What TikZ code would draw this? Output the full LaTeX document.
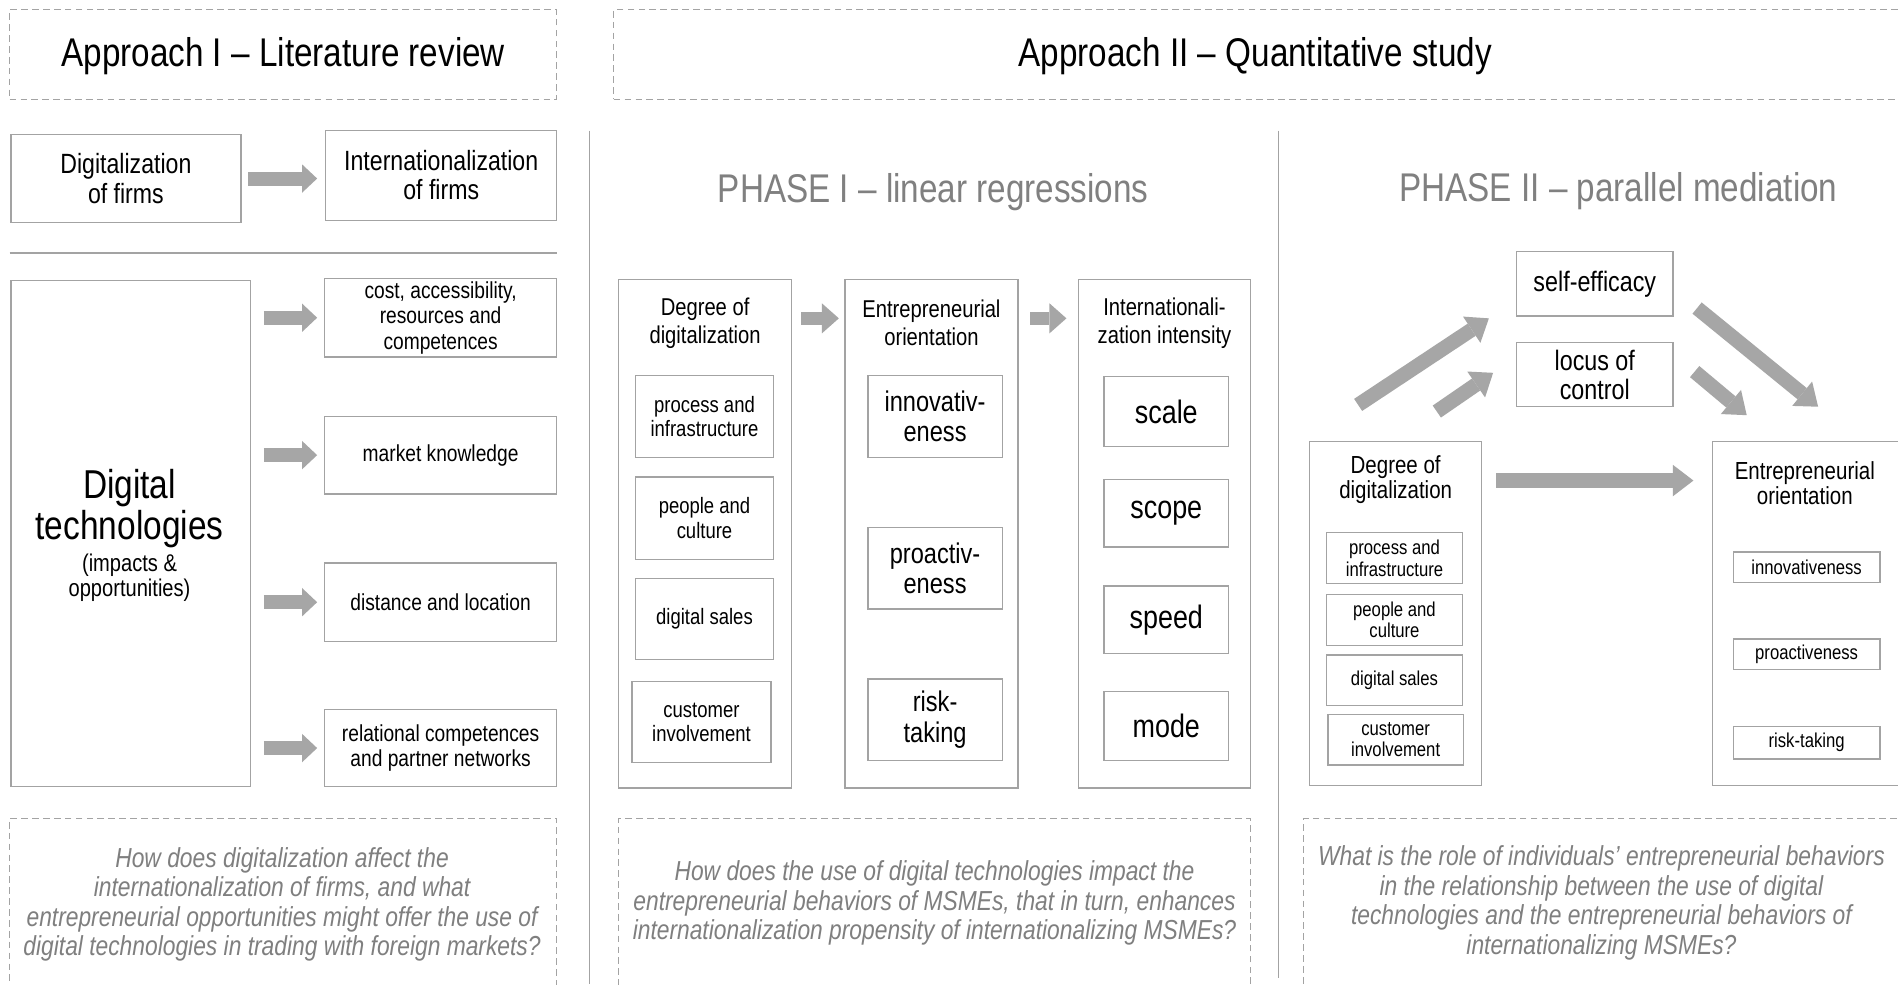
\documentclass[tikz,border=0pt]{standalone}
\usepackage{fontspec}
\setmainfont{Liberation Sans}[FakeStretch=0.83]
\usetikzlibrary{fit,arrows.meta,calc}
\definecolor{bordergray}{HTML}{A3A3A3}
\definecolor{arrowgray}{HTML}{A6A6A6}
\definecolor{titlegray}{HTML}{808080}
\definecolor{qgray}{HTML}{7F7F7F}
\newcommand{\myfs}[2]{\fontsize{#1}{#2}\selectfont}
\tikzset{
  bx/.style={draw=bordergray, line width=1.1pt, inner sep=0pt, outer sep=0pt},
  dbx/.style={draw=bordergray, line width=1.1pt, dash pattern=on 5.5pt off 3.5pt, inner sep=0pt, outer sep=0pt},
  sepline/.style={draw=bordergray, line width=1.1pt},
  txt/.style={inner sep=0pt, align=center, text=black},
  ptitle/.style={inner sep=0pt, text=titlegray, font=\myfs{33.1}{36}},
  qtxt/.style={inner sep=0pt, align=center, text=qgray, font=\itshape\myfs{22.7}{24.3}},
  arrL/.style={draw=arrowgray, line width=11.5pt, -{Triangle[length=12.5pt,width=23.5pt,line width=0pt]}},
  arrP/.style={draw=arrowgray, line width=10.7pt, -{Triangle[length=14pt,width=24.8pt,line width=0pt]}},
  arrM/.style={draw=arrowgray, line width=12pt, -{Triangle[length=17pt,width=26pt,line width=0pt]}},
  hdrA/.style={font=\myfs{20.1}{23}},
  subA/.style={font=\myfs{18.4}{20}},
  eoA/.style={font=\myfs{23.5}{25}},
  iiA/.style={font=\myfs{26.8}{28}},
  hdrB/.style={font=\myfs{20.4}{21}},
  subB/.style={font=\myfs{16.6}{18}},
  lcA/.style={font=\myfs{19.1}{21}},
  ttl/.style={font=\myfs{33.1}{36}},
  frm/.style={font=\myfs{23}{24}}
}
\begin{document}
\begin{tikzpicture}[x=1pt,y=-1pt]
\fill[white] (0,0) rectangle (1568,813);
\useasboundingbox (0,0) rectangle (1568,813);

% ---------- top titles
\node[dbx, fit={(8,8)(460,82)}] (appI) {};
\node[txt, ttl] (appIt) at ([yshift=-1pt]appI.center) {Approach I – Literature review};
\node[dbx, fit={(507,8)(1590,82)}] (appII) {};
\node[txt, ttl] (appIIt) at (1037,46) {Approach II – Quantitative study};

% ---------- Approach I
\node[bx, fit={(9,111)(199,184)}] (dof) {};
\node[txt, frm] (doft) at (dof.center) {Digitalization\\of firms};
\node[bx, fit={(269,108)(460,182)}] (iof) {};
\node[txt, frm] (ioft) at (iof.center) {Internationalization\\of firms};
\draw[arrL, shorten <=6pt, shorten >=7pt] (dof.east) -- (dof.east -| iof.west);

\draw[sepline] (8,209) -- (460,209);

\node[bx, fit={(9,232)(207,650)}] (dt) {};
\node[txt, font=\myfs{33.3}{34}] (dtt) at (107,420) {Digital\\technologies};
\node[txt, font=\myfs{20}{20.5}] (dts) at (107,477) {(impacts \&\\opportunities)};

\node[bx, fit={(268,230)(460,295)}] (c1) {};
\node[txt, lcA] (c1t) at (c1.center) {cost, accessibility,\\resources and\\competences};
\node[bx, fit={(268,344)(460,408)}] (c2) {};
\node[txt, lcA] (c2t) at (c2.center) {market knowledge};
\node[bx, fit={(268,465)(460,530)}] (c3) {};
\node[txt, lcA] (c3t) at (c3.center) {distance and location};
\node[bx, fit={(268,586)(460,650)}] (c4) {};
\node[txt, lcA] (c4t) at (c4.center) {relational competences\\and partner networks};
\foreach \c in {c1,c2,c3,c4}
  \draw[arrL, shorten <=11pt, shorten >=6pt] (dt.east |- \c.west) -- (\c.west);

% ---------- separators
\draw[sepline] (487,108) -- (487,813);
\draw[sepline] (1056,108) -- (1056,808);

% ---------- Phase I
\node[ptitle] (ph1) at (771,159) {PHASE I – linear regressions};

\node[bx, fit={(511,231)(654,651)}] (dd1) {};
\node[txt, hdrA] (dd1h) at (582.5,267) {Degree of\\digitalization};
\node[bx, fit={(525,310)(639,378)}] (p1) {};
\node[txt, subA] (p1t) at (p1.center) {process and\\infrastructure};
\node[bx, fit={(525,394)(639,462)}] (p2) {};
\node[txt, subA] (p2t) at (p2.center) {people and\\culture};
\node[bx, fit={(525,478)(639,545)}] (p3) {};
\node[txt, subA] (p3t) at (p3.center) {digital sales};
\node[bx, fit={(522,563)(637,630)}] (p4) {};
\node[txt, subA] (p4t) at (p4.center) {customer\\involvement};

\node[bx, fit={(698,231)(841,651)}] (eo1) {};
\node[txt, hdrA] (eo1h) at (769.5,267) {Entrepreneurial\\orientation};
\node[bx, fit={(717,310)(828,378)}] (e1) {};
\node[txt, eoA] (e1t) at (e1.center) {innovativ-\\eness};
\node[bx, fit={(717,436)(828,503)}] (e2) {};
\node[txt, eoA] (e2t) at (e2.center) {proactiv-\\eness};
\node[bx, fit={(717,561)(828,628)}] (e3) {};
\node[txt, eoA] (e3t) at (e3.center) {risk-\\taking};

\node[bx, fit={(891,231)(1033,651)}] (ii1) {};
\node[txt, hdrA] (ii1h) at (962,267) {Internationali-\\zation intensity};
\node[bx, fit={(912,311)(1015,369)}] (s1) {};
\node[txt, iiA] (s1t) at (s1.center) {scale};
\node[bx, fit={(912,396)(1015,452)}] (s2) {};
\node[txt, iiA] (s2t) at (s2.center) {scope};
\node[bx, fit={(912,484)(1015,540)}] (s3) {};
\node[txt, iiA] (s3t) at (s3.center) {speed};
\node[bx, fit={(912,571)(1015,628)}] (s4) {};
\node[txt, iiA] (s4t) at (s4.center) {mode};

\draw[arrP, shorten <=8pt, shorten >=5pt] ([yshift=-32pt]dd1.north east) -- ([yshift=-32pt]eo1.north west);
\draw[arrP, shorten <=10pt, shorten >=10pt] ([yshift=-32pt]eo1.north east) -- ([yshift=-32pt]ii1.north west);

% ---------- Phase II
\node[ptitle] (ph2) at (1337,158) {PHASE II – parallel mediation};
\node[bx, fit={(1253,208)(1382,261)}] (se) {};
\node[txt, font=\myfs{23.2}{24}] (set) at (se.center) {self-efficacy};
\node[bx, fit={(1253,283)(1382,336)}] (lc) {};
\node[txt, font=\myfs{23.2}{24}] (lct) at (lc.center) {locus of\\control};

\node[bx, fit={(1082,365)(1224,649)}] (dd2) {};
\node[txt, hdrB] (dd2h) at (1153,396) {Degree of\\digitalization};
\node[bx, fit={(1096,440)(1208,482)}] (q1) {};
\node[txt, subB] (q1t) at (q1.center) {process and\\infrastructure};
\node[bx, fit={(1096,491)(1208,533)}] (q2) {};
\node[txt, subB] (q2t) at (q2.center) {people and\\culture};
\node[bx, fit={(1096,541)(1208,583)}] (q3) {};
\node[txt, subB] (q3t) at (q3.center) {digital sales};
\node[bx, fit={(1097,590)(1209,632)}] (q4) {};
\node[txt, subB] (q4t) at (q4.center) {customer\\involvement};

\node[bx, fit={(1415,365)(1600,649)}] (eo2) {};
\node[txt, hdrB] (eo2h) at (1491,399) {Entrepreneurial\\orientation};
\node[bx, fit={(1432,456)(1553,481)}] (r1) {};
\node[txt, subB] (r1t) at (r1.center) {innovativeness};
\node[bx, fit={(1432,528)(1553,553)}] (r2) {};
\node[txt, subB] (r2t) at (r2.center) {proactiveness};
\node[bx, fit={(1432,600)(1553,627)}] (r3) {};
\node[txt, subB] (r3t) at (r3.center) {risk-taking};

\coordinate (m1s) at (1122,334.5); \coordinate (m1e) at (1230,263);
\coordinate (m2s) at (1187,340);   \coordinate (m2e) at (1233.5,308);
\coordinate (m3s) at (1402,254.5); \coordinate (m3e) at (1502,336);
\coordinate (m4s) at (1400,307);   \coordinate (m4e) at (1443,343);
\coordinate (hy) at (1300,397);
\draw[arrM] (m1s) -- (m1e);
\draw[arrM] (m2s) -- (m2e);
\draw[arrM] (m3s) -- (m3e);
\draw[arrM] (m4s) -- (m4e);
\draw[arrM, shorten <=12pt, shorten >=16pt] (dd2.east |- hy) -- (eo2.west |- hy);

% ---------- research questions
\node[dbx, fit={(8,676)(460,840)}] (qa) {};
\node[dbx, fit={(511,676)(1033,840)}] (qb) {};
\node[dbx, fit={(1077,676)(1600,840)}] (qc) {};
\node[qtxt] (qat) at (233,747) {How does digitalization affect the\\internationalization of firms, and what\\entrepreneurial opportunities might offer the use of\\digital technologies in trading with foreign markets?};
\node[qtxt] (qbt) at (772,746) {How does the use of digital technologies impact the\\entrepreneurial behaviors of MSMEs, that in turn, enhances\\internationalization propensity of internationalizing MSMEs?};
\node[qtxt] (qct) at (1323,746) {What is the role of individuals’ entrepreneurial behaviors\\in the relationship between the use of digital\\technologies and the entrepreneurial behaviors of\\internationalizing MSMEs?};
\end{tikzpicture}
\end{document}
